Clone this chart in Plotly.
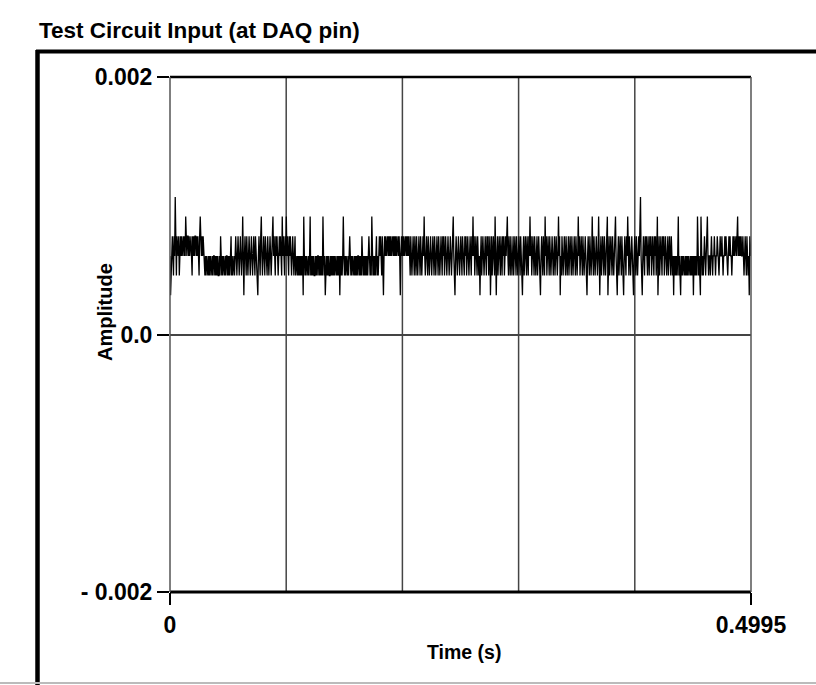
import plotly.graph_objects as go

# ADC codes of the noisy input (16-bit, +/-5 V range),
# 1000 samples at 0.5 ms (0 ... 0.4995 s)
codes = [
    4,2,3,4,5,4,3,5,4,7,4,3,5,4,4,5,3,4,5,4,
    5,4,5,5,4,5,4,6,5,4,5,5,4,5,4,5,5,4,3,5,
    4,5,4,5,5,4,5,4,5,4,3,5,6,5,4,5,4,5,4,4,
    3,4,3,4,3,3,4,3,4,3,4,3,3,4,3,4,4,3,4,3,
    4,3,4,3,3,4,3,5,4,3,4,3,4,3,3,4,3,4,4,3,
    4,3,4,3,4,5,3,4,3,4,4,3,4,5,4,3,4,5,4,3,
    4,5,4,3,4,6,4,2,4,5,4,3,5,4,3,4,5,4,3,4,
    5,4,3,4,5,4,3,5,4,4,3,2,4,5,4,3,5,6,4,3,
    4,5,4,3,5,4,4,3,5,4,3,4,5,4,3,4,5,6,4,5,
    4,3,5,4,5,4,3,4,5,4,5,4,3,6,4,5,4,3,5,4,
    6,4,5,4,3,5,4,5,4,3,4,5,4,3,4,5,3,4,4,3,
    4,3,4,3,4,3,4,3,4,2,6,4,3,4,3,4,3,3,4,3,
    4,6,3,4,3,4,3,4,3,3,4,3,4,3,4,4,3,4,3,4,
    3,4,3,6,4,3,4,2,3,4,3,4,3,4,3,3,4,3,4,3,
    4,3,4,3,4,3,3,4,3,4,3,4,2,4,3,4,3,4,6,4,
    3,4,3,4,3,3,4,3,4,5,4,3,4,3,4,3,3,4,3,4,
    3,4,3,4,4,3,4,3,4,3,5,4,3,4,3,4,3,4,3,4,
    3,4,5,4,3,4,3,6,4,3,4,3,4,3,4,5,3,4,3,4,
    5,4,5,4,3,5,4,2,4,5,4,5,4,5,5,4,5,4,5,4,
    5,4,5,5,4,5,4,5,4,5,4,5,5,4,5,4,2,4,5,4,
    5,4,5,4,5,5,4,5,4,5,4,5,4,3,5,4,3,4,5,4,
    3,5,4,3,5,4,3,4,5,4,3,5,4,3,4,5,4,6,4,3,
    4,5,4,3,5,4,3,4,5,4,3,4,5,4,3,5,4,3,4,5,
    4,3,5,4,3,4,5,4,3,5,4,5,3,4,5,4,3,4,5,4,
    3,4,5,4,3,4,5,6,4,3,2,4,5,4,3,4,5,4,3,4,
    5,4,3,5,4,4,3,5,4,5,3,4,5,4,3,4,5,4,3,5,
    4,6,4,5,3,4,5,4,3,5,4,3,4,2,4,5,3,4,5,4,
    3,4,5,4,3,5,4,5,3,4,5,2,4,5,3,4,5,4,3,6,
    4,2,4,5,3,4,5,4,3,5,4,3,5,4,5,3,4,5,4,5,
    6,4,3,5,4,3,5,4,3,4,5,3,4,5,4,3,5,4,3,4,
    5,4,3,5,4,3,2,4,5,3,4,5,4,3,5,4,3,5,4,6,
    4,5,3,4,5,4,3,5,4,3,4,5,3,4,5,4,3,2,4,5,
    4,3,5,4,3,6,4,5,3,4,5,4,3,5,4,3,4,5,4,3,
    4,5,3,4,5,4,3,4,6,4,5,2,4,3,5,4,3,4,5,4,
    3,5,4,3,4,5,3,4,5,4,3,5,4,3,4,5,4,3,5,4,
    3,4,6,4,5,3,4,5,4,3,5,4,3,4,5,4,3,2,4,5,
    4,3,5,4,3,4,6,4,3,5,4,3,4,5,4,3,4,6,4,2,
    4,5,3,4,5,4,3,5,4,3,4,5,6,2,4,5,3,4,5,4,
    3,5,4,3,4,5,6,4,3,2,4,5,3,4,5,4,3,5,4,3,
    2,4,5,4,3,5,4,6,4,3,5,4,3,4,5,4,3,2,4,5,
    4,3,5,4,3,4,5,4,5,7,4,3,2,4,5,4,3,5,4,5,
    4,3,5,4,3,5,4,5,3,4,5,4,3,5,4,5,3,4,6,2,
    4,5,3,4,5,4,3,5,4,5,3,4,5,4,3,4,5,3,4,5,
    4,3,5,4,3,4,2,4,3,4,3,4,3,4,6,3,4,3,2,4,
    3,4,3,4,3,3,4,3,4,3,4,3,4,3,3,4,3,4,3,4,
    2,4,3,4,3,4,3,6,4,3,4,3,2,6,4,3,4,3,4,5,
    4,3,4,5,6,4,3,4,4,3,4,5,4,3,4,4,5,4,3,4,
    4,5,4,4,3,4,5,4,4,5,4,3,4,4,5,4,5,4,4,3,
    4,5,4,5,4,4,3,4,5,4,5,4,5,5,4,5,6,4,5,4,
    5,4,5,4,4,5,4,3,4,5,4,3,5,4,3,4,2,5,4,4,
]
lsb = 10.0 / 65536          # volts per ADC code
dt = 0.0005                 # sample spacing (s)
amplitude = [c * lsb for c in codes]
time_s = [i * dt for i in range(len(codes))]

x_tickvals = [0, 0.4995]
x_ticktext = ["0", "0.4995"]
y_tickvals = [-0.002, 0.0, 0.002]
y_ticktext = ["- 0.002", "0.0", "0.002"]

W, H = 816, 685
L, R, T, B = 170, 751, 77, 592
pw, ph = R - L, B - T


def px(x):
    return (x - L) / pw


def py(y):
    return (B - y) / ph


SANS = "Liberation Sans, Arial, sans-serif"

fig = go.Figure()
fig.add_trace(go.Scatter(
    x=time_s, y=amplitude, mode="lines",
    line=dict(color="black", width=1.3),
    hoverinfo="skip", showlegend=False,
))

shapes = []
for f in [0.2, 0.4, 0.6, 0.8]:
    shapes.append(dict(type="line", xref="paper", yref="paper", x0=f, x1=f, y0=0, y1=1,
                       line=dict(color="#444444", width=1.5), layer="below"))
shapes.append(dict(type="line", xref="paper", yref="paper", x0=0, x1=1, y0=1, y1=1,
                   line=dict(color="black", width=2.5)))
shapes.append(dict(type="line", xref="paper", yref="paper", x0=0, x1=1, y0=0, y1=0,
                   line=dict(color="black", width=3)))
shapes.append(dict(type="line", xref="paper", yref="paper", x0=0, x1=0, y0=0, y1=1,
                   line=dict(color="#555555", width=1.5)))
shapes.append(dict(type="line", xref="paper", yref="paper", x0=1, x1=1, y0=0, y1=1,
                   line=dict(color="#555555", width=1.5)))
# outer frame
shapes.append(dict(type="line", xref="paper", yref="paper", x0=px(36), x1=px(W + 5),
                   y0=py(51.5), y1=py(51.5), line=dict(color="black", width=4)))
shapes.append(dict(type="line", xref="paper", yref="paper", x0=px(37.5), x1=px(37.5),
                   y0=py(50), y1=py(H + 5), line=dict(color="black", width=4.5)))
shapes.append(dict(type="line", xref="paper", yref="paper", x0=px(0), x1=px(W),
                   y0=py(683), y1=py(683), line=dict(color="#bbbbbb", width=2)))

annotations = [
    dict(text="<b>Test Circuit Input (at DAQ pin)</b>", xref="paper", yref="paper",
         x=px(37), y=py(30), xanchor="left", yanchor="middle", showarrow=False,
         font=dict(family=SANS, size=22.5, color="black")),
    dict(text="<b>Amplitude</b>", xref="paper", yref="paper", x=px(105), y=py(312),
         xanchor="center", yanchor="middle", textangle=-90, showarrow=False,
         font=dict(family=SANS, size=20, color="black")),
    dict(text="<b>Time (s)</b>", xref="paper", yref="paper", x=px(464), y=py(652),
         xanchor="center", yanchor="middle", showarrow=False,
         font=dict(family=SANS, size=19.5, color="black")),
]

fig.update_layout(
    width=W, height=H,
    margin=dict(l=L, r=W - R, t=T, b=H - B, pad=0),
    paper_bgcolor="white", plot_bgcolor="white",
    shapes=shapes, annotations=annotations,
    xaxis=dict(range=[0, 0.4995], tickvals=x_tickvals, ticktext=x_ticktext,
               ticks="outside", ticklen=12, tickcolor="black", tickwidth=1.5,
               showgrid=False, zeroline=False, showline=False,
               tickfont=dict(family=SANS, size=23, color="black", weight="bold")),
    yaxis=dict(range=[-0.002, 0.002], tickvals=y_tickvals, ticktext=y_ticktext,
               ticks="outside", ticklen=12, tickcolor="black", tickwidth=1.5,
               showgrid=False, zeroline=True, zerolinecolor="#444444", zerolinewidth=1.5,
               showline=False,
               tickfont=dict(family=SANS, size=23, color="black", weight="bold")),
)

fig.write_html("out.html", config={"displayModeBar": False},
               post_script="document.body.style.margin='0px';")
